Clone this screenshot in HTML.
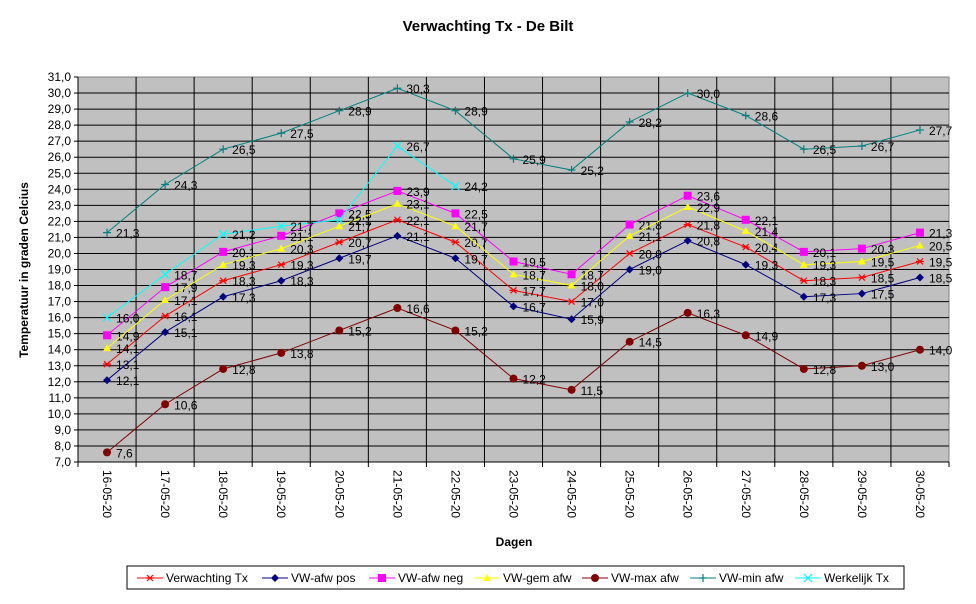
<!DOCTYPE html>
<html><head><meta charset="utf-8"><style>
body{margin:0;background:#fff;font-family:"Liberation Sans",Arial,sans-serif}
svg text{font-family:"Liberation Sans",Arial,sans-serif}
</style></head><body>
<svg id="c" width="976" height="599" xmlns="http://www.w3.org/2000/svg">
<text x="488" y="31" text-anchor="middle" font-size="15" font-weight="bold">Verwachting Tx - De Bilt</text>
<rect x="78" y="77" width="871" height="385" fill="#c0c0c0" stroke="#808080"/>
<g id="grid"></g><g id="axes"></g><g id="series"></g>
<text transform="translate(28,270) rotate(-90)" text-anchor="middle" font-size="12" font-weight="bold">Temperatuur in graden Celcius</text>
<text x="514" y="546" text-anchor="middle" font-size="12" font-weight="bold">Dagen</text>
<rect x="127" y="566" width="777" height="23" fill="#fff" stroke="#000"/>
<g id="legend"></g>
</svg>
<script>
const categories=["16-05-20","17-05-20","18-05-20","19-05-20","20-05-20","21-05-20","22-05-20","23-05-20","24-05-20","25-05-20","26-05-20","27-05-20","28-05-20","29-05-20","30-05-20"];
const verwachting=[13.1,16.1,18.3,19.3,20.7,22.1,20.7,17.7,17.0,20.0,21.8,20.4,18.3,18.5,19.5];
const afwPos=[12.1,15.1,17.3,18.3,19.7,21.1,19.7,16.7,15.9,19.0,20.8,19.3,17.3,17.5,18.5];
const afwNeg=[14.9,17.9,20.1,21.1,22.5,23.9,22.5,19.5,18.7,21.8,23.6,22.1,20.1,20.3,21.3];
const gemAfw=[14.1,17.1,19.3,20.3,21.7,23.1,21.7,18.7,18.0,21.1,22.9,21.4,19.3,19.5,20.5];
const maxAfw=[7.6,10.6,12.8,13.8,15.2,16.6,15.2,12.2,11.5,14.5,16.3,14.9,12.8,13.0,14.0];
const minAfw=[21.3,24.3,26.5,27.5,28.9,30.3,28.9,25.9,25.2,28.2,30.0,28.6,26.5,26.7,27.7];
const werkelijk=[16.0,18.7,21.2,21.7,22.1,26.7,24.2];
const yMin=7,yMax=31,yStep=1;
const L=78,T=77,W=871,H=385;
const NS="http://www.w3.org/2000/svg";
const band=W/categories.length;
const xs=i=>L+band*(i+0.5);
const ys=v=>T+H-(v-yMin)/(yMax-yMin)*H;
function mk(tag,attrs,parent,text){const e=document.createElementNS(NS,tag);for(const k in attrs)e.setAttribute(k,attrs[k]);if(text!==undefined)e.textContent=text;parent.appendChild(e);return e;}
const grid=document.getElementById('grid'),axes=document.getElementById('axes'),ser=document.getElementById('series'),leg=document.getElementById('legend');
const fmt=v=>v.toFixed(1).replace('.',',');
for(let v=yMin;v<=yMax+1e-9;v+=yStep){
 const y=ys(v);
 if(v>yMin&&v<yMax){const g=mk('line',{x1:L,x2:L+W,y1:y,y2:y,stroke:'#000','stroke-width':1},grid);
 }
 mk('line',{x1:L-4,x2:L,y1:y,y2:y,stroke:'#000'},axes);
 const t=mk('text',{x:L-7,y:y+4,'text-anchor':'end','font-size':12},axes,fmt(v));
 
}
for(let i=1;i<categories.length;i++){
 const x=L+band*i;const g=mk('line',{x1:x,x2:x,y1:T,y2:T+H,stroke:'#000'},grid);
 
}
for(let i=0;i<=categories.length;i++){mk('line',{x1:L+band*i,x2:L+band*i,y1:T+H,y2:T+H+5,stroke:'#000'},axes);}
mk('line',{x1:L,x2:L,y1:T,y2:T+H,stroke:'#000'},axes);
mk('line',{x1:L,x2:L+W,y1:T+H,y2:T+H,stroke:'#000'},axes);
categories.forEach((c,i)=>{const t=mk('text',{transform:`translate(${xs(i)-4},470) rotate(90)`,'font-size':12},axes,c);
 });
function marker(type,x,y,col,p){
 if(type==='star'){mk('path',{d:`M${x-4},${y}H${x+4}M${x-3},${y-3}L${x+3},${y+3}M${x-3},${y+3}L${x+3},${y-3}`,stroke:col,'stroke-width':1.2},p);}
 else if(type==='diamond'){mk('path',{d:`M${x},${y-4}L${x+4},${y}L${x},${y+4}L${x-4},${y}Z`,fill:col},p);}
 else if(type==='square'){mk('rect',{x:x-4,y:y-4,width:8,height:8,fill:col},p);}
 else if(type==='tri'){mk('path',{d:`M${x},${y-4}L${x+4},${y+3}L${x-4},${y+3}Z`,fill:col},p);}
 else if(type==='circle'){mk('circle',{cx:x,cy:y,r:4,fill:col},p);}
 else if(type==='plus'){mk('path',{d:`M${x-4},${y}H${x+4}M${x},${y-4}V${y+4}`,stroke:col,'stroke-width':1.2},p);}
 else if(type==='x'){mk('path',{d:`M${x-4},${y-4}L${x+4},${y+4}M${x-4},${y+4}L${x+4},${y-4}`,stroke:col,'stroke-width':1.2},p);}
}
const seriesDefs=[
 ['Verwachting Tx',verwachting,'#ff0000','star','series-verwachting-tx',137],
 ['VW-afw pos',afwPos,'#000080','diamond','series-vw-afw-pos',262],
 ['VW-afw neg',afwNeg,'#ff00ff','square','series-vw-afw-neg',369],
 ['VW-gem afw',gemAfw,'#ffff00','tri','series-vw-gem-afw',474],
 ['VW-max afw',maxAfw,'#800000','circle','series-vw-max-afw',582],
 ['VW-min afw',minAfw,'#008080','plus','series-vw-min-afw',690],
 ['Werkelijk Tx',werkelijk,'#00ffff','x','series-werkelijk-tx',795]
];
seriesDefs.forEach(([name,vals,col,mt,dn,lx])=>{
 const g=mk('g',{},ser);
 
 const pl=mk('polyline',{points:vals.map((v,i)=>xs(i)+','+ys(v)).join(' '),fill:'none',stroke:col,'stroke-width':1},g);
 
 vals.forEach((v,i)=>{marker(mt,xs(i),ys(v),col,g);
  const t=mk('text',{x:xs(i)+9,y:ys(v)+5,'font-size':12},g,fmt(v));
  });
 const le=mk('g',{},leg);
 
 mk('line',{x1:lx,x2:lx+26,y1:578,y2:578,stroke:col},le);
 marker(mt,lx+13,578,col,le);
 mk('text',{x:lx+29,y:582,'font-size':12},le,name);
});
</script>
</body></html>
